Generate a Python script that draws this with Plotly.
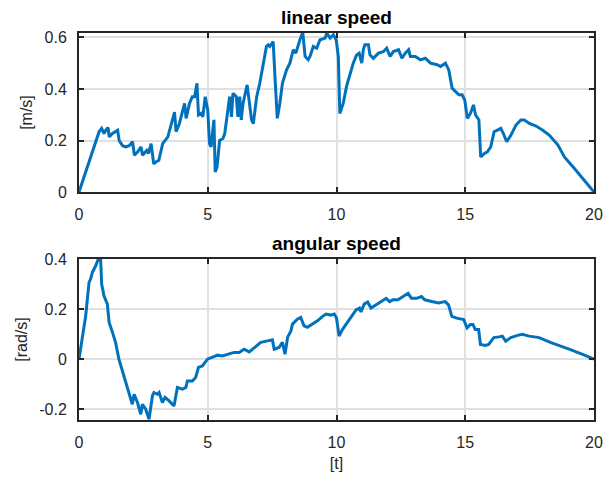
import plotly.graph_objects as go

# linear speed [m/s]
t_lin = [0, 0.78, 0.88, 0.97, 1.04, 1.13, 1.17, 1.3, 1.5, 1.56, 1.69, 1.82, 1.95, 2.08, 2.15, 2.28, 2.41,
         2.47, 2.63, 2.7, 2.8, 2.9, 2.99, 3.1, 3.25, 3.36, 3.45, 3.71, 3.77, 3.9, 4.1, 4.16, 4.29, 4.4, 4.49,
         4.58, 4.64, 4.74, 4.81, 4.9, 5.0, 5.07, 5.13, 5.24, 5.29, 5.36, 5.46, 5.59, 5.66, 5.85, 5.92, 5.98,
         6.11, 6.17, 6.24, 6.3, 6.37, 6.53, 6.63, 6.7, 6.77, 6.9, 7.02, 7.18, 7.28, 7.35, 7.41, 7.5, 7.54,
         7.61, 7.7, 7.8, 7.9, 8.06, 8.19, 8.32, 8.42, 8.58, 8.69, 8.78, 8.9, 8.97, 9.1, 9.23, 9.36, 9.56,
         9.62, 9.75, 9.88, 9.99, 10.07, 10.13, 10.26, 10.39, 10.52, 10.65, 10.78, 10.88, 10.98, 11.04, 11.1,
         11.24, 11.3, 11.43, 11.63, 11.82, 11.95, 12.08, 12.21, 12.41, 12.54, 12.67, 12.8, 12.87, 13.06,
         13.26, 13.45, 13.65, 13.91, 14.04, 14.23, 14.36, 14.49, 14.62, 14.75, 14.88, 14.98, 15.08, 15.2,
         15.32, 15.4, 15.53, 15.6, 15.73, 15.86, 15.99, 16.12, 16.25, 16.38, 16.48, 16.61, 16.77, 16.97,
         17.16, 17.29, 17.49, 17.75, 18.01, 18.27, 18.6, 18.85, 19.24, 19.63, 20.0]
v_lin = [0, 0.234, 0.247, 0.227, 0.24, 0.25, 0.214, 0.227, 0.24, 0.2, 0.18, 0.175, 0.18, 0.195, 0.143, 0.156,
         0.175, 0.143, 0.162, 0.15, 0.188, 0.11, 0.117, 0.123, 0.188, 0.2, 0.214, 0.31, 0.234, 0.266, 0.344,
         0.286, 0.344, 0.37, 0.37, 0.422, 0.299, 0.305, 0.292, 0.37, 0.318, 0.188, 0.175, 0.28, 0.078, 0.097,
         0.2, 0.208, 0.227, 0.37, 0.292, 0.383, 0.37, 0.292, 0.37, 0.28, 0.344, 0.416, 0.344, 0.28, 0.266,
         0.37, 0.422, 0.506, 0.565, 0.571, 0.565, 0.578, 0.584, 0.448, 0.286, 0.344, 0.422, 0.474, 0.5,
         0.552, 0.539, 0.591, 0.62, 0.526, 0.513, 0.526, 0.565, 0.558, 0.591, 0.597, 0.617, 0.597, 0.61,
         0.59, 0.526, 0.305, 0.344, 0.41, 0.455, 0.5, 0.532, 0.539, 0.5, 0.552, 0.571, 0.571, 0.532, 0.519,
         0.539, 0.545, 0.558, 0.526, 0.545, 0.552, 0.519, 0.539, 0.552, 0.526, 0.526, 0.513, 0.519, 0.5,
         0.494, 0.487, 0.5, 0.474, 0.403, 0.39, 0.377, 0.377, 0.357, 0.286, 0.305, 0.338, 0.299, 0.28, 0.136,
         0.149, 0.156, 0.175, 0.234, 0.24, 0.247, 0.227, 0.195, 0.22, 0.26, 0.28, 0.28, 0.266, 0.256, 0.24,
         0.22, 0.182, 0.136, 0.091, 0.045, 0.0]

# angular speed [rad/s]
t_ang = [0, 0.13, 0.26, 0.39, 0.45, 0.52, 0.65, 0.75, 0.84, 0.88, 0.97, 1.1, 1.17, 1.3, 1.42, 1.55, 1.75,
         1.94, 2.07, 2.14, 2.27, 2.4, 2.46, 2.59, 2.72, 2.85, 2.91, 3.04, 3.11, 3.24, 3.34, 3.5, 3.69, 3.82,
         4.02, 4.15, 4.21, 4.4, 4.53, 4.64, 4.79, 4.99, 5.18, 5.38, 5.57, 5.83, 6.02, 6.22, 6.41, 6.61, 6.87,
         7.06, 7.32, 7.51, 7.58, 7.77, 7.9, 8.0, 8.1, 8.23, 8.29, 8.48, 8.61, 8.74, 8.87, 9.07, 9.26, 9.46,
         9.59, 9.78, 9.91, 10.0, 10.1, 10.23, 10.5, 10.76, 10.89, 10.95, 11.08, 11.21, 11.34, 11.54, 11.74,
         11.93, 12.06, 12.19, 12.39, 12.58, 12.78, 12.91, 13.11, 13.3, 13.43, 13.7, 13.96, 14.22, 14.35,
         14.48, 14.67, 14.94, 15.07, 15.2, 15.3, 15.39, 15.52, 15.59, 15.78, 15.91, 16.11, 16.31, 16.44,
         16.57, 16.77, 17.03, 17.22, 17.48, 17.87, 18.33, 18.72, 19.11, 19.63, 20.0]
w_ang = [0, 0.08, 0.173, 0.307, 0.32, 0.347, 0.373, 0.4, 0.4, 0.3, 0.253, 0.22, 0.147, 0.107, 0.067, 0.0,
         -0.067, -0.133, -0.18, -0.14, -0.173, -0.22, -0.18, -0.2, -0.24, -0.147, -0.133, -0.14, -0.133,
         -0.173, -0.153, -0.167, -0.187, -0.113, -0.12, -0.113, -0.087, -0.087, -0.073, -0.033, -0.027, 0.0,
         0.007, 0.016, 0.013, 0.02, 0.027, 0.027, 0.04, 0.029, 0.053, 0.067, 0.073, 0.077, 0.04, 0.047,
         0.067, 0.02, 0.087, 0.113, 0.14, 0.16, 0.167, 0.133, 0.127, 0.14, 0.153, 0.171, 0.18, 0.176, 0.18,
         0.164, 0.092, 0.118, 0.158, 0.197, 0.204, 0.189, 0.221, 0.228, 0.204, 0.217, 0.23, 0.243, 0.23,
         0.237, 0.237, 0.25, 0.263, 0.243, 0.243, 0.25, 0.237, 0.23, 0.224, 0.23, 0.217, 0.171, 0.164, 0.158,
         0.125, 0.138, 0.138, 0.118, 0.118, 0.059, 0.055, 0.059, 0.086, 0.089, 0.092, 0.072, 0.086, 0.095,
         0.099, 0.092, 0.086, 0.066, 0.05, 0.037, 0.016, 0.0]

x_ticks = [0, 5, 10, 15, 20]
y1_ticks = [0, 0.2, 0.4, 0.6]
y1_labels = ["0", "0.2", "0.4", "0.6"]
y2_ticks = [-0.2, 0, 0.2, 0.4]
y2_labels = ["-0.2", "0", "0.2", "0.4"]

BLUE = "#0072BD"
FONT = "Liberation Sans, Arial, sans-serif"
TXT = "#262626"

fig = go.Figure()
fig.add_trace(go.Scatter(x=t_lin, y=v_lin, mode="lines", line=dict(color=BLUE, width=3),
                         xaxis="x", yaxis="y", showlegend=False))
fig.add_trace(go.Scatter(x=t_ang, y=w_ang, mode="lines", line=dict(color=BLUE, width=3),
                         xaxis="x2", yaxis="y2", showlegend=False))

axcommon = dict(showline=True, linecolor=TXT, linewidth=2, mirror="ticks", ticks="inside",
                ticklen=5, tickwidth=2, tickcolor=TXT, showgrid=True, gridcolor="#e0e0e0",
                gridwidth=2, zeroline=False, automargin=False,
                tickfont=dict(family=FONT, size=16, color=TXT))

fig.update_layout(
    width=615, height=477,
    paper_bgcolor="white", plot_bgcolor="white",
    margin=dict(l=71, r=29, t=25, b=65, autoexpand=False),
    xaxis=dict(domain=[0, 1], anchor="y", range=[0, 20], tickvals=x_ticks, ticklabelstandoff=7, **axcommon),
    yaxis=dict(domain=[0.589, 1], anchor="x", range=[0, 0.617], tickvals=y1_ticks, ticktext=y1_labels,
               ticklabelstandoff=7,
               title=dict(text="[m/s]", font=dict(family=FONT, size=16, color=TXT), standoff=8),
               **axcommon),
    xaxis2=dict(domain=[0, 1], anchor="y2", range=[0, 20], tickvals=x_ticks, ticklabelstandoff=7,
                title=dict(text="[t]", font=dict(family=FONT, size=16, color=TXT), standoff=8),
                **axcommon),
    yaxis2=dict(domain=[0, 0.416], anchor="x2", range=[-0.243, 0.4], tickvals=y2_ticks, ticktext=y2_labels,
                ticklabelstandoff=7,
                title=dict(text="[rad/s]", font=dict(family=FONT, size=16, color=TXT), standoff=8),
                **axcommon),
    annotations=[
        dict(text="<b>linear speed</b>", x=0.5, y=1, xref="paper", yref="paper", xanchor="center",
             yanchor="bottom", yshift=3, showarrow=False, font=dict(family=FONT, size=19, color="black")),
        dict(text="<b>angular speed</b>", x=0.5, y=0.416, xref="paper", yref="paper", xanchor="center",
             yanchor="bottom", yshift=3, showarrow=False, font=dict(family=FONT, size=19, color="black")),
    ],
)

fig.write_html("out.html")
